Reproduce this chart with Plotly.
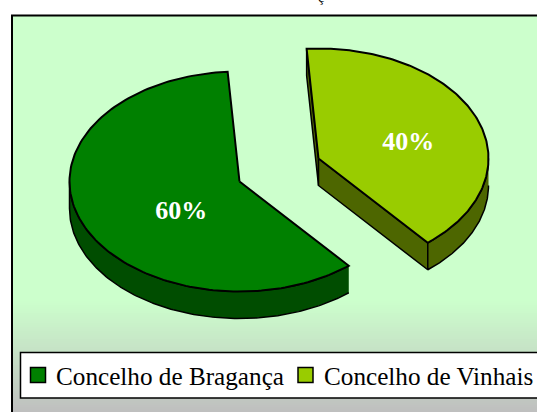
import numpy as np
import plotly.graph_objects as go

categories = ["Concelho de Bragança", "Concelho de Vinhais"]
values = [60, 40]
top_colors = ["#008000", "#99CC00"]
side_colors = ["#004D00", "#4D6600"]

W, H = 537, 412
RX, RY, DEPTH = 170, 110, 27
centers = [(239.5, 181.5), (318.5, 158.5)]
label_frac = [(0.37, 0.72), (0.57, 0.40)]
START = np.radians(266)
shares = np.array(values) / sum(values) * 2 * np.pi


def pt(c, t, dz=0):
    return c[0] + RX * np.cos(t), c[1] + RY * np.sin(t) + dz


def arc(c, a, b, dz=0, n=160):
    t = np.linspace(a, b, n)
    return c[0] + RX * np.cos(t), c[1] + RY * np.sin(t) + dz


def poly(x, y, fill, lw=1.5, line="black"):
    return go.Scatter(x=list(x), y=list(y), mode="lines", fill="toself", fillcolor=fill,
                      line=dict(color=line, width=lw), hoverinfo="skip", showlegend=False)


fig = go.Figure()

# chart-area background
ys = np.arange(15, H + 3, 2)
mids = (ys[:-1] + ys[1:]) / 2
fig.add_trace(go.Heatmap(x=[12, 300, W + 2], y=ys, z=[[v, v] for v in mids], zmin=15, zmax=H,
                         showscale=False, hoverinfo="skip",
                         colorscale=[[0, "#CCFFCC"], [0.72, "#CCFFCC"], [1, "#BFBFBF"]]))

# green slice
c = centers[0]
a0, a1 = START - shares[0], START
rx, ry = arc(c, a0, np.pi)
rbx, rby = arc(c, np.pi, a0, DEPTH)
fig.add_trace(poly(np.r_[rx, rbx], np.r_[ry, rby], side_colors[0], 1.5))
tx, ty = arc(c, a0, a1)
fig.add_trace(poly(np.r_[c[0], tx, c[0]], np.r_[c[1], ty, c[1]], top_colors[0], 2))

# yellow slice
c = centers[1]
b0, b1 = START, START + shares[1]
tip = pt(c, b1)
start_pt = pt(c, b0)
fig.add_trace(poly([c[0], start_pt[0], start_pt[0], c[0], c[0]],
                   [c[1], start_pt[1], start_pt[1] + DEPTH, c[1] + DEPTH, c[1]], side_colors[1], 1.5))
fig.add_trace(poly([c[0], tip[0], tip[0], c[0], c[0]],
                   [c[1], tip[1], tip[1] + DEPTH, c[1] + DEPTH, c[1]], side_colors[1], 1.5))
rx, ry = arc(c, 2 * np.pi, b1)
rbx, rby = arc(c, b1, 2 * np.pi, DEPTH)
fig.add_trace(poly(np.r_[rx, rbx], np.r_[ry, rby], side_colors[1], 1.5))
tx, ty = arc(c, b0, b1)
fig.add_trace(poly(np.r_[c[0], tx, c[0]], np.r_[c[1], ty, c[1]], top_colors[1], 2))

# percent labels
mid = [(a0 + a1) / 2, (b0 + b1) / 2]
for i, (cc, m, f) in enumerate(zip(centers, mid, label_frac)):
    lx, ly = cc[0] + f[0] * RX * np.cos(m), cc[1] + f[1] * RY * np.sin(m)
    fig.add_trace(go.Scatter(x=[lx], y=[ly + 1], mode="text", text=[f"{values[i]}%"], showlegend=False,
                             hoverinfo="skip",
                             textfont=dict(family="Liberation Serif", size=26, color="white", weight="bold")))

# frame
fig.add_shape(type="rect", x0=12, y0=15.5, x1=W + 10, y1=H + 10, line=dict(color="black", width=2),
              fillcolor="rgba(0,0,0,0)", layer="above")
# legend box with swatches and names
fig.add_shape(type="rect", x0=20.5, y0=352.5, x1=W + 10, y1=398, line=dict(color="black", width=1.5),
              fillcolor="white", layer="above")
swatch_x = [38, 305.5]
text_x = [56, 323.5]
for name, col, sx, tx_ in zip(categories, top_colors, swatch_x, text_x):
    fig.add_annotation(x=tx_, y=376, text=name, showarrow=False, xanchor="left", yanchor="middle",
                       xshift=-2, font=dict(family="Liberation Serif", size=25.2, color="black"))
    fig.add_shape(type="rect", x0=sx - 7.5, x1=sx + 7.5, y0=367.5, y1=382.5, fillcolor=col,
                  line=dict(color="black", width=1.5), layer="above")

# cut-off title remnant at the top of the page
fig.add_annotation(x=321, y=0, text="ç", showarrow=False, yanchor="middle", xanchor="center",
                   yshift=3, font=dict(family="Liberation Serif", size=14, color="black"))

fig.update_layout(
    width=W, height=H, margin=dict(l=0, r=0, t=0, b=0), paper_bgcolor="white", plot_bgcolor="white",
    xaxis=dict(range=[0, W], visible=False, fixedrange=True),
    yaxis=dict(range=[H, 0], visible=False, fixedrange=True),
    font=dict(family="Liberation Serif", color="black"),
    showlegend=False,
)
fig.write_html("out.html", config={"displayModeBar": False},
               post_script="document.body.style.margin='0';document.body.style.overflow='hidden';")
